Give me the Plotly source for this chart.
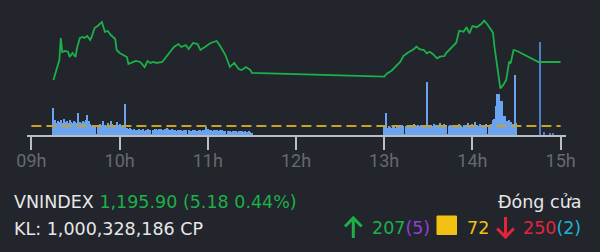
import plotly.graph_objects as go

# ---------------- data ----------------
line_times = ["09:15","09:17","09:19","09:20","09:21","09:23","09:25","09:26","09:28","09:30",
              "09:31","09:33","09:35","09:36","09:38","09:40","09:41","09:43","09:45","09:48",
              "09:50","09:52","09:54","09:57","09:58","10:00","10:03","10:05","10:06","10:08",
              "10:11","10:14","10:17","10:19","10:21","10:23","10:25","10:29","10:31","10:34",
              "10:37","10:40","10:42","10:45","10:47","10:50","10:53","10:55","10:58","11:02",
              "11:06","11:08","11:12","11:15","11:18","11:21","11:23","11:26","11:29","11:30",
              "13:00","13:02","13:05","13:07","13:11","13:13","13:16","13:20","13:22","13:24",
              "13:27","13:29","13:31","13:33","13:36","13:38","13:41","13:42","13:46","13:49",
              "13:51","13:54","13:56","13:58","14:00","14:03","14:06","14:08","14:10","14:14",
              "14:15","14:17","14:19","14:21","14:23","14:25","14:26","14:28","14:30","14:45",
              "15:00"]
line_values = [1194.44,1195.25,1196.06,1197.84,1196.71,1196.79,1196.71,1196.30,1196.63,1196.30,
               1197.03,1197.84,1197.92,1197.84,1198.00,1197.68,1197.92,1198.65,1198.81,1199.13,
               1198.33,1198.41,1198.08,1197.76,1196.87,1196.63,1196.46,1196.30,1195.74,1195.82,
               1195.98,1195.90,1195.49,1195.98,1195.82,1195.90,1195.82,1195.90,1196.22,1196.63,
               1197.11,1197.35,1197.11,1197.27,1196.95,1197.44,1197.35,1196.87,1197.11,1197.44,
               1197.60,1197.27,1196.46,1195.49,1195.82,1195.33,1195.25,1195.49,1195.25,1195.01,
               1194.71,1194.98,1195.19,1195.41,1195.92,1196.38,1196.65,1196.93,1197.14,1196.93,
               1196.87,1196.60,1196.73,1196.55,1196.20,1196.33,1196.38,1196.60,1197.14,1197.46,
               1198.43,1198.35,1198.71,1198.22,1198.81,1198.71,1198.97,1199.24,1198.97,1198.27,
               1197.14,1195.52,1193.77,1194.04,1194.44,1195.92,1195.79,1196.87,1196.81,1195.90,
               1195.90]
ref_price = 1190.72

# per-minute volume (x100k shares), morning session from 09:15
vol_am_start = "09:15"
vol_am = [27,
          15,12,14,13,15,
          12,16,13,14,12,15,13,12,14,13,
          12,22,13,12,14,13,15,20,14,11,
          9,8,10,0.5,
          10,9,11,10,14,10,9,12,10,14,11,10,9,13,10,11,9,10,
          0.3,31,
          7,6,7,6,5,6,5,5,6,5,5,6,4,5,6,5,
          5,1,5,6,6,5,6,6,5,5,6,7,6,5,5,6,5,5,4,5,
          5,5,4,5,5,1,5,4,4,5,5,4,4,5,5,4,5,5,8,6,
          5,5,4,5,5,5,4,5,4,5,4,4,1,4,4,3,4,4,4,3,4,4,4,3,4,3,3,4,3,2]
# afternoon session from 13:00
vol_pm_start = "13:00"
vol_pm = [8,22,
          7,9,8,7,9,8,7,10,9,8,10,9,
          0.5,
          9,10,9,10,9,11,10,9,10,9,10,9,8,9,
          53,
          8,9,10,9,11,10,9,10,12,10,9,11,10,
          0.5,
          9,10,9,8,10,9,10,11,9,8,10,9,10,12,9,10,11,10,13,10,9,11,10,9,10,11,
          0.5,
          10,10,11,15,16,29,41,41,34,34,19,19,14,14,15,13,11,11,60,12]
# closing auction and late trades
vol_atc_times = ["14:46"]
vol_atc = [93]
vol_late_times = ["14:49","14:53","14:55"]
vol_late = [3,2,2]

tick_hours = [9, 10, 11, 12, 13, 14, 15]
tick_labels = ["09h", "10h", "11h", "12h", "13h", "14h", "15h"]

# ---------------- helpers ----------------
def to_min(t):
    h, m = t.split(":")
    return (int(h) - 9) * 60 + int(m)

W, H = 600, 252
def px(x):
    return x / W
def py(y):
    return 1 - y / H

am_x = [to_min(vol_am_start) + i for i in range(len(vol_am))]
pm_x = [to_min(vol_pm_start) + i for i in range(len(vol_pm))]

BG = "#22252b"
GREEN = "#1cb04a"
BAR = "#6aa4f0"
BAR_DARK = "#4c7ec9"
GOLD = "#c9a22a"
AXIS = "#b9bdc5"

fig = go.Figure()
fig.add_trace(go.Bar(x=am_x + pm_x, y=vol_am + vol_pm, width=1.0,
                     marker=dict(color=BAR, line=dict(width=0)), yaxis="y"))
fig.add_trace(go.Bar(x=[to_min(t) for t in vol_atc_times], y=vol_atc, width=1.2,
                     marker=dict(color=BAR_DARK, line=dict(width=0)), yaxis="y"))
fig.add_trace(go.Bar(x=[to_min(t) for t in vol_late_times], y=vol_late, width=1.0,
                     marker=dict(color=BAR_DARK, line=dict(width=0)), yaxis="y"))
fig.add_trace(go.Scatter(x=[0, 360], y=[ref_price, ref_price], mode="lines",
                         line=dict(color=GOLD, width=2, dash="10px,5px"), yaxis="y2"))
fig.add_trace(go.Scatter(x=[to_min(t) for t in line_times], y=line_values, mode="lines",
                         line=dict(color=GREEN, width=1.8), yaxis="y2"))

x0, x1 = 26.8, 566.4
m_per_px = 60 / 88.2
xr = [(x0 - 31.4) * m_per_px, (x1 - 31.4) * m_per_px]
plot_bottom = 135
ppp = 12.36  # pixels per index point
y2r = [ref_price - (plot_bottom - 126) / ppp, ref_price + 126 / ppp]

fig.update_layout(
    width=W, height=H, margin=dict(l=0, r=0, t=0, b=0, pad=0, autoexpand=False),
    paper_bgcolor=BG, plot_bgcolor=BG, showlegend=False, bargap=0,
    xaxis=dict(domain=[px(x0), px(x1)], range=xr, autorange=False,
               tickvals=[(h - 9) * 60 for h in tick_hours],
               ticktext=tick_labels, showgrid=False, zeroline=False, showline=True,
               linecolor=AXIS, linewidth=1.5, ticks="outside", ticklen=13, tickwidth=1.5,
               tickcolor=AXIS, automargin=False, ticklabelstandoff=-4,
               tickfont=dict(family="Roboto", size=18, color="#66696f")),
    yaxis=dict(domain=[py(plot_bottom), 1], range=[0, plot_bottom], visible=False,
               fixedrange=True, automargin=False),
    yaxis2=dict(overlaying="y", range=y2r, visible=False, automargin=False),
)

FONT = "DejaVu Sans"
TXT = "#e6e7e9"
FS = 17.5
anns = [
    dict(x=px(12), y=py(202), xanchor="left", yanchor="middle",
         text='VNINDEX <span style="color:%s">1,195.90 (5.18 0.44%%)</span>' % GREEN,
         font=dict(family=FONT, size=FS, color=TXT)),
    dict(x=px(12), y=py(229), xanchor="left", yanchor="middle",
         text="KL: 1,000,328,186 CP", font=dict(family=FONT, size=FS, color=TXT)),
    dict(x=px(583), y=py(202), xanchor="right", yanchor="middle",
         text="Đóng cửa", font=dict(family=FONT, size=FS, color=TXT)),
    dict(x=px(370), y=py(228), xanchor="left", yanchor="middle",
         text='<span style="color:%s">207</span><span style="color:#9040d2">(5)</span>' % GREEN,
         font=dict(family=FONT, size=FS, color=GREEN)),
    dict(x=px(465), y=py(228), xanchor="left", yanchor="middle",
         text="72", font=dict(family=FONT, size=FS, color="#f3c114")),
    dict(x=px(583), y=py(228), xanchor="right", yanchor="middle",
         text='<span style="color:#e5243b">250</span><span style="color:#1fb4d2">(2)</span>',
         font=dict(family=FONT, size=FS, color="#e5243b")),
]
for a in anns:
    a.update(xref="paper", yref="paper", showarrow=False)
fig.update_layout(annotations=anns)

def path(points):
    return "M " + " L ".join("%f,%f" % (px(x), py(y)) for x, y in points)

shapes = [
    # up arrow
    dict(type="path", path=path([(353.3, 238), (353.3, 218.5)]), line=dict(color=GREEN, width=3)),
    dict(type="path", path=path([(345, 226.5), (353.3, 218), (361.6, 226.5)]), line=dict(color=GREEN, width=3)),
    # down arrow
    dict(type="path", path=path([(505.5, 217), (505.5, 236.5)]), line=dict(color="#e5243b", width=3)),
    dict(type="path", path=path([(497.2, 228.5), (505.5, 237), (513.8, 228.5)]), line=dict(color="#e5243b", width=3)),
    # yellow square
    dict(type="rect", x0=px(437), x1=px(456.5), y0=py(234.5), y1=py(216), fillcolor="#f3c114",
         line=dict(color="#f3c114", width=1)),
]
for s in shapes:
    s.update(xref="paper", yref="paper")
fig.update_layout(shapes=shapes)

fig.write_html("out.html")
